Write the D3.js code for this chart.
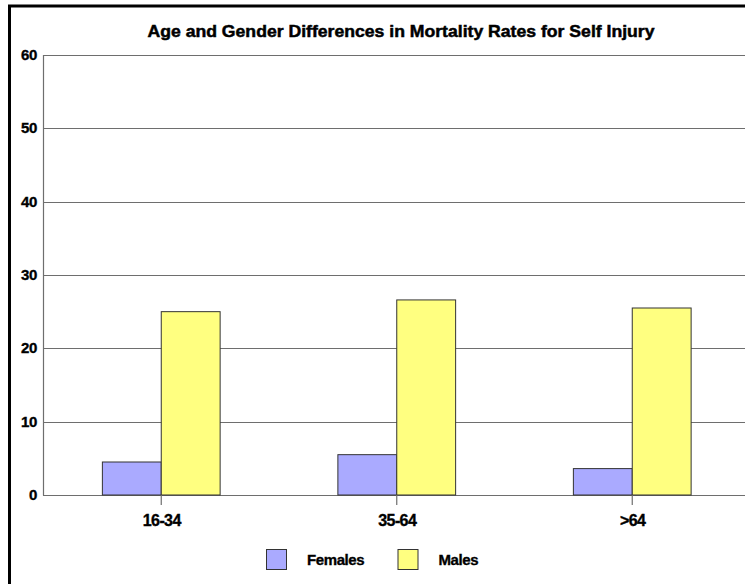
<!DOCTYPE html>
<html>
<head>
<meta charset="utf-8">
<script src="https://cdn.jsdelivr.net/npm/d3@7"></script>
<style>
  body { margin: 0; background: #fff; }
  svg { display: block; font-family: "Liberation Sans", Arial, sans-serif; font-weight: bold; }
  text { stroke: #000; stroke-width: 0.35px; }
</style>
</head>
<body>
<svg id="chart"></svg>
<script>
const W = 745, H = 584

const title = "Age and Gender Differences in Mortality Rates for Self Injury"
const ageGroups = ["16-34", "35-64", ">64"]
const series = ["Females", "Males"]
const females = [4.5, 5.5, 3.6]
const males = [25.0, 26.6, 25.5]
const yTicks = [0, 10, 20, 30, 40, 50, 60]
const colors = { Females: "#aaaaff", Males: "#ffff80" }

const svg = d3.select("#chart").attr("width", W).attr("height", H)

// outer frame (right/bottom run off the page)
svg.append("rect")
    .attr("x", 9.5).attr("y", 6)
    .attr("width", 800).attr("height", 700)
    .attr("fill", "none").attr("stroke", "#000").attr("stroke-width", 3)

const x = d3.scaleBand().domain(ageGroups).range([43, 749.5]).padding(0)
const xs = d3.scaleBand().domain(series).range([x.bandwidth() * 0.25, x.bandwidth() * 0.75]).padding(0)
const y = d3.scaleLinear().domain([0, 60]).range([495, 55])

// gridlines
svg.append("g")
    .selectAll("line")
    .data(yTicks)
    .enter()
    .append("line")
    .attr("x1", 43).attr("x2", W)
    .attr("y1", (d) => Math.round(y(d)) + 0.5)
    .attr("y2", (d) => Math.round(y(d)) + 0.5)
    .attr("stroke", "#6e6e6e").attr("stroke-width", 1.2)

// left axis line
svg.append("line")
    .attr("x1", 43.5).attr("x2", 43.5)
    .attr("y1", y(60)).attr("y2", y(0) + 0.5)
    .attr("stroke", "#6e6e6e").attr("stroke-width", 1.2)

// y labels
svg.append("g")
    .selectAll("text")
    .data(yTicks)
    .enter()
    .append("text")
    .attr("x", 37)
    .attr("y", (d) => y(d) + 5)
    .attr("text-anchor", "end")
    .attr("font-size", 15)
    .attr("letter-spacing", -0.3)
    .text((d) => d)

// bars
const rows = ageGroups.map((g, i) => ({ group: g, Females: females[i], Males: males[i] }))

const groups = svg.append("g")
    .selectAll("g")
    .data(rows)
    .enter()
    .append("g")
    .attr("transform", (d) => `translate(${x(d.group)},0)`)

groups.selectAll("rect")
    .data((d) => series.map((s) => ({ s: s, v: d[s] })))
    .enter()
    .append("rect")
    .attr("x", (d) => xs(d.s) + 0.5)
    .attr("y", (d) => y(d.v))
    .attr("width", xs.bandwidth())
    .attr("height", (d) => y(0) - y(d.v))
    .attr("fill", (d) => colors[d.s])
    .attr("stroke", "#333").attr("stroke-width", 1)

// category ticks + labels
svg.append("g")
    .selectAll("line")
    .data(ageGroups)
    .enter()
    .append("line")
    .attr("x1", (d) => x(d) + x.bandwidth() / 2 + 0.5)
    .attr("x2", (d) => x(d) + x.bandwidth() / 2 + 0.5)
    .attr("y1", y(0)).attr("y2", y(0) + 10)
    .attr("stroke", "#6e6e6e").attr("stroke-width", 1.2)

svg.append("g")
    .selectAll("text")
    .data(ageGroups)
    .enter()
    .append("text")
    .attr("x", (d) => x(d) + x.bandwidth() / 2 + 1)
    .attr("y", 525.5)
    .attr("text-anchor", "middle")
    .attr("font-size", 16)
    .attr("letter-spacing", -0.6)
    .text((d) => d)

// title
svg.append("text")
    .attr("x", 401).attr("y", 37)
    .attr("text-anchor", "middle")
    .attr("font-size", 16.5)
    .attr("textLength", 507)
    .attr("lengthAdjust", "spacingAndGlyphs")
    .style("stroke-width", "0.5px")
    .text(title)

// legend
const legendX = [266, 397.5]
const legend = svg.append("g")
    .selectAll("g")
    .data(series)
    .enter()
    .append("g")
    .attr("transform", (d, i) => `translate(${legendX[i]},549)`)

legend.append("rect")
    .attr("x", 0.5).attr("y", 0.5)
    .attr("width", 20).attr("height", 20)
    .attr("fill", (d) => colors[d])
    .attr("stroke", "#333")

legend.append("text")
    .attr("x", 41).attr("y", 16)
    .attr("font-size", 15)
    .attr("letter-spacing", -0.4)
    .text((d) => d)
</script>
</body>
</html>
